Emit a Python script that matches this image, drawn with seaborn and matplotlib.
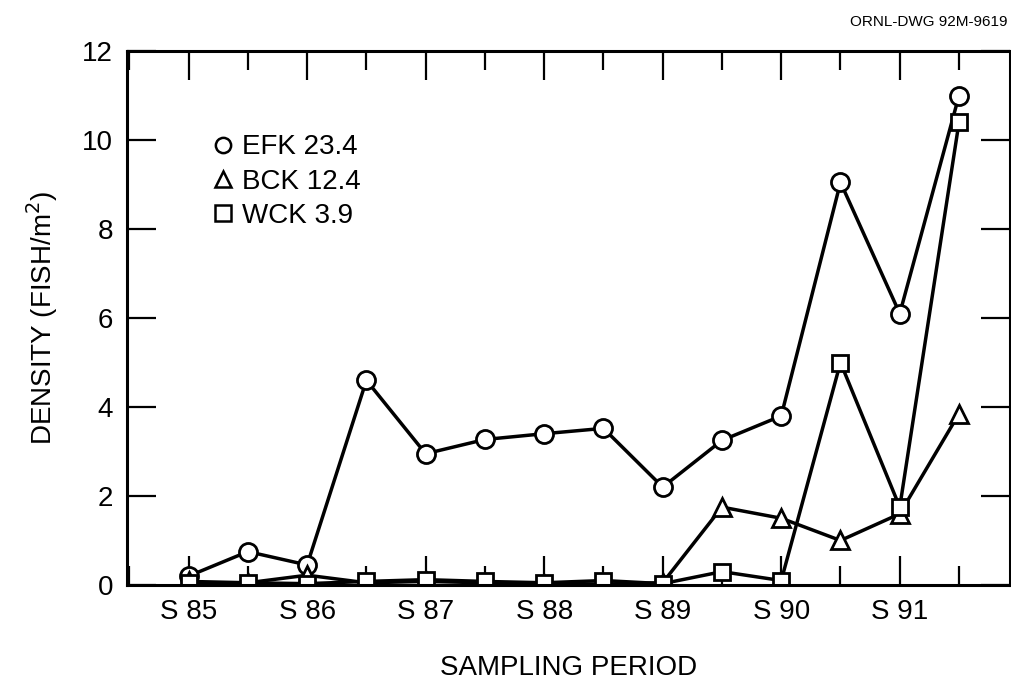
import numpy as np
import pandas as pd
import seaborn as sns
import matplotlib.pyplot as plt
from matplotlib.ticker import MultipleLocator

# 値は図から読み取り
periods = [85, 85.5, 86, 86.5, 87, 87.5, 88, 88.5, 89, 89.5, 90, 90.5, 91, 91.5]
efk = [0.2, 0.75, 0.45, 4.6, 2.95, 3.27, 3.4, 3.52, 2.2, 3.25, 3.8, 9.05, 6.1, 11.0]
bck = [0.08, 0.05, 0.22, 0.05, 0.08, 0.05, 0.03, 0.02, 0.05, 1.75, 1.5, 1.0, 1.6, 3.85]
wck = [0.05, 0.05, 0.03, 0.08, 0.12, 0.08, 0.05, 0.1, 0.03, 0.3, 0.1, 5.0, 1.75, 10.4]
series_names = ["EFK 23.4", "BCK 12.4", "WCK 3.9"]
series_markers = ["o", "^", "s"]
tick_labels = ["S 85", "S 86", "S 87", "S 88", "S 89", "S 90", "S 91"]

df = pd.DataFrame({
    "period": periods * 3,
    "density": efk + bck + wck,
    "site": np.repeat(series_names, len(periods)),
})

sns.set_style("white")
plt.rcParams["font.family"] = ["Liberation Sans", "DejaVu Sans"]
plt.rcParams["text.color"] = "black"
plt.rcParams["axes.labelcolor"] = "black"

fig = plt.figure(figsize=(10.11, 6.85), dpi=100)
ax = fig.add_axes([0.1256, 0.146, 0.8734, 0.7795])

for name, mk in zip(series_names, series_markers):
    d = df[df["site"] == name]
    sns.lineplot(data=d, x="period", y="density", ax=ax, color="black",
                 linewidth=2.5, marker=mk, markersize=13 if mk != "s" else 12,
                 markerfacecolor="white", markeredgecolor="black",
                 markeredgewidth=2.0, label=name, legend=False)

ax.set_xlim(84.48, 91.93)
ax.set_ylim(0, 12)
ax.set_xticks([85, 86, 87, 88, 89, 90, 91])
ax.set_xticklabels(tick_labels)
ax.xaxis.set_minor_locator(MultipleLocator(0.5))
ax.set_yticks(range(0, 13, 2))
ax.tick_params(axis="both", which="major", direction="in", length=21, width=1.6,
               top=True, right=True, left=True, bottom=True,
               labelsize=20, pad=10, colors="black")
ax.tick_params(axis="x", which="minor", direction="in", length=14, width=1.6,
               top=True, bottom=True, colors="black")
for s in ax.spines.values():
    s.set_linewidth(2.2)
    s.set_color("black")

ax.set_xlabel("SAMPLING PERIOD", fontsize=20, labelpad=22)
ax.set_ylabel("DENSITY (FISH/m$^2$)", fontsize=20, labelpad=16)

handles = [plt.Line2D([], [], linestyle="none", marker=mk, markersize=11,
                      markerfacecolor="white", markeredgecolor="black",
                      markeredgewidth=1.8) for mk in series_markers]
ax.legend(handles, series_names, loc="upper left", bbox_to_anchor=(0.08, 0.865),
          frameon=False, fontsize=20, handletextpad=0.2, labelspacing=0.3,
          handlelength=1.0, borderaxespad=0)

fig.text(0.997, 0.968, "ORNL-DWG 92M-9619", ha="right", va="center", fontsize=11)

fig.savefig("out.png", dpi=100)
